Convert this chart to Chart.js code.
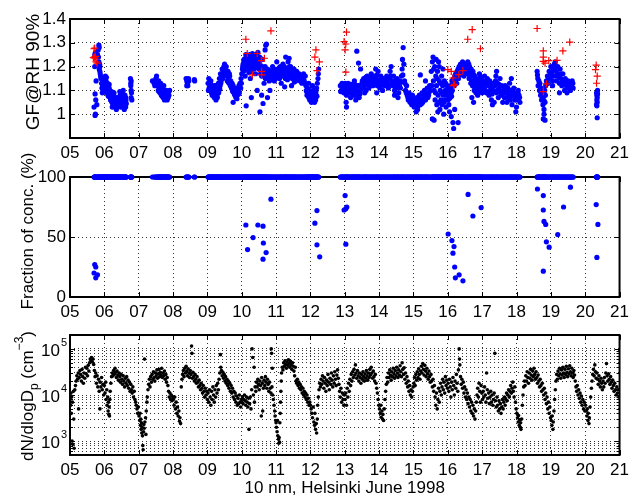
<!DOCTYPE html>
<html>
<head>
<meta charset="utf-8">
<script src="https://cdn.jsdelivr.net/npm/chart.js@4.4.0/dist/chart.umd.min.js"></script>
<style>
html, body { margin: 0; padding: 0; background: #fff; }
#wrap { position: relative; width: 634px; height: 496px; overflow: hidden; }
canvas { position: absolute; left: 0; }
</style>
</head>
<body>
<div id="wrap">
  <canvas id="gf" width="634" height="160" style="top:0px"></canvas>
  <canvas id="frac" width="634" height="173" style="top:145px"></canvas>
  <canvas id="conc" width="634" height="178" style="top:318px"></canvas>
</div>
<script>
// --- ticks ---
const dayTicks = [5, 6, 7, 8, 9, 10, 11, 12, 13, 14, 15, 16, 17, 18, 19, 20, 21];
const gfTicks = [1, 1.1, 1.2, 1.3, 1.4];
const fracTicks = [0, 50, 100];
const concTicks = [600, 700, 800, 900, 1000, 2000, 3000, 4000, 5000, 6000, 7000, 8000, 9000,
  10000, 20000, 30000, 40000, 50000, 60000, 70000, 80000, 90000, 100000];
const decadeLabels = [1000, 10000, 100000];

// --- GF @ RH 90%, one mode (blue) : [day of June, GF] ---
const gfBlueEarly = [
  [5.70,1.03],[5.73,0.995],[5.74,1.0],[5.75,1.06],[5.73,1.085],[5.78,1.04],[5.76,1.14],[5.72,1.2],[5.72,1.25],[5.74,1.26],
  [5.80,1.25],[5.82,1.27],[5.84,1.29],[5.85,1.28],[5.83,1.24],[5.84,1.22],[5.86,1.21],[5.85,1.19],[5.87,1.18],[5.88,1.17],[5.89,1.16],[5.87,1.2],
  [5.90,1.15],[5.92,1.13],[5.93,1.11],[5.95,1.12],[5.96,1.14],[5.97,1.10],[5.98,1.12],[6.00,1.13],[6.01,1.11],[6.02,1.15],
  [6.03,1.12],[6.04,1.10],[6.05,1.14],[6.06,1.09],[6.07,1.12],[6.08,1.11],[6.09,1.13],[6.10,1.10],[6.11,1.08],[6.12,1.12],
  [6.13,1.09],[6.14,1.11],[6.15,1.08],[6.16,1.10],[6.17,1.07],[6.03,1.16],[6.06,1.155],[5.94,1.09],[6.12,1.075],
  [5.96,1.105],[6.01,1.135],[6.04,1.125],[6.08,1.095],[6.14,1.125],[6.19,1.075],[6.21,1.095],[6.26,1.055],[6.29,1.075],[6.32,1.045],
  [6.39,1.065],[6.42,1.035],[6.45,1.05],[6.49,1.04],[6.52,1.075],[6.56,1.06],[6.59,1.035],[6.62,1.07],[6.64,1.045],[6.23,1.03],
  [6.18,1.06],[6.20,1.08],[6.22,1.05],[6.24,1.07],[6.25,1.04],[6.27,1.06],[6.28,1.09],[6.30,1.05],[6.31,1.03],[6.33,1.07],
  [6.34,1.05],[6.36,1.04],[6.37,1.06],[6.38,1.03],[6.40,1.05],[6.41,1.07],[6.43,1.04],[6.44,1.06],[6.46,1.08],[6.47,1.05],
  [6.48,1.03],[6.50,1.06],[6.51,1.09],[6.53,1.04],[6.54,1.07],[6.55,1.10],[6.57,1.05],[6.58,1.02],[6.60,1.08],[6.61,1.04],
  [6.62,1.03],[6.63,1.06],[6.35,1.02],[6.45,1.095],
  [6.76,1.15],[6.77,1.13],[6.78,1.14],[6.77,1.12],[6.78,1.10],[6.79,1.09],[6.80,1.06],[6.78,1.07],
  [7.40,1.14],[7.45,1.13],[7.50,1.15],[7.52,1.16],[7.55,1.12],[7.57,1.10],[7.58,1.14],[7.60,1.11],[7.62,1.09],[7.63,1.12],
  [7.65,1.10],[7.66,1.08],[7.68,1.11],[7.70,1.09],[7.71,1.07],[7.72,1.10],[7.74,1.08],[7.75,1.06],[7.77,1.09],[7.78,1.07],
  [7.80,1.10],[7.82,1.08],[7.83,1.06],[7.85,1.09],[7.86,1.07],[7.88,1.08],[7.90,1.10],[7.64,1.13],[7.73,1.12],
  [7.47,1.12],[7.53,1.135],[7.59,1.095],[7.67,1.095],[7.69,1.075],[7.76,1.095],[7.79,1.065],[7.81,1.09],[7.84,1.075],[7.87,1.095],
  [7.61,1.125],[7.70,1.1],
  [8.38,1.15],[8.40,1.14],[8.42,1.13],[8.43,1.12],[8.45,1.15],[8.46,1.14],[8.40,1.12],[8.63,1.14],[8.62,1.145]
];
const gfBlueMid = [
  [9.02,1.13],[9.04,1.15],[9.05,1.11],[9.07,1.12],[9.08,1.10],[9.10,1.14],[9.12,1.09],[9.13,1.12],[9.15,1.10],[9.17,1.08],
  [9.18,1.11],[9.20,1.07],[9.22,1.09],[9.23,1.12],[9.25,1.06],[9.27,1.10],[9.28,1.08],[9.30,1.11],[9.32,1.13],[9.33,1.09],
  [9.35,1.15],[9.37,1.12],[9.38,1.17],[9.40,1.14],[9.42,1.16],[9.43,1.19],[9.45,1.15],
  [9.03,1.1],[9.09,1.125],[9.14,1.08],[9.19,1.095],[9.21,1.12],[9.26,1.085],[9.29,1.07],[9.31,1.095],[9.36,1.105],[9.39,1.13],
  [9.44,1.17],[9.11,1.105],
  [9.47,1.18],[9.48,1.20],[9.50,1.21],[9.52,1.19],[9.53,1.17],[9.55,1.20],[9.57,1.16],[9.58,1.14],[9.60,1.18],[9.62,1.15],
  [9.63,1.13],[9.65,1.16],[9.67,1.12],[9.68,1.14],[9.70,1.11],[9.72,1.13],[9.73,1.10],[9.75,1.12],[9.77,1.09],[9.78,1.11],
  [9.80,1.08],[9.82,1.10],[9.83,1.07],[9.85,1.09],[9.87,1.08],[9.88,1.11],[9.90,1.10],[9.92,1.12],[9.93,1.09],[9.95,1.13],
  [9.97,1.11],[9.98,1.15],[9.75,1.05],
  [9.51,1.165],[9.56,1.18],[9.61,1.135],[9.64,1.17],[9.69,1.125],[9.74,1.095],[9.79,1.085],[9.84,1.105],[9.86,1.065],[9.91,1.085],
  [9.94,1.115],[9.99,1.13],
  [10.00,1.17],[10.02,1.19],[10.04,1.21],[10.05,1.18],[10.07,1.23],[10.08,1.20],[10.10,1.22],[10.12,1.25],[10.13,1.21],[10.15,1.19],
  [10.17,1.24],[10.18,1.22],[10.20,1.20],[10.22,1.23],[10.23,1.25],[10.25,1.21],[10.27,1.18],[10.28,1.22],[10.30,1.24],[10.32,1.20],
  [10.33,1.23],[10.35,1.19],[10.37,1.22],[10.38,1.25],[10.40,1.21],[10.42,1.24],[10.43,1.20],[10.45,1.23],[10.47,1.26],[10.48,1.22],
  [10.50,1.19],[10.52,1.24],[10.53,1.21],[10.55,1.17],[10.57,1.20],[10.58,1.16],[10.60,1.23],[10.10,1.16],[10.25,1.15],[10.40,1.17],
  [10.03,1.2],[10.06,1.225],[10.09,1.185],[10.11,1.235],[10.14,1.215],[10.16,1.205],[10.19,1.245],[10.21,1.175],[10.24,1.195],[10.26,1.235],
  [10.29,1.205],[10.31,1.255],[10.34,1.215],[10.36,1.235],[10.39,1.195],[10.41,1.225],[10.44,1.245],[10.46,1.205],[10.49,1.235],[10.51,1.215],
  [10.54,1.235],[10.56,1.185],[10.59,1.2],
  [10.13,1.035],[10.28,1.07],[10.45,1.10],[10.53,1.01],[10.62,1.045],[10.75,1.07],[10.82,1.10],[10.65,1.13],[10.58,1.08],
  [10.70,1.29],[10.72,1.295],[10.68,1.27],
  [10.62,1.18],[10.65,1.16],[10.68,1.20],[10.70,1.17],[10.73,1.15],[10.75,1.19],[10.78,1.16],[10.80,1.14],[10.83,1.18],[10.85,1.15],
  [10.88,1.17],[10.90,1.20],[10.93,1.16],[10.95,1.14],[10.98,1.18],[11.00,1.16],[11.02,1.22],[11.05,1.19],[11.07,1.17],[11.10,1.15],
  [11.12,1.20],[11.15,1.18],[11.17,1.16],[11.20,1.21],[11.22,1.19],[11.25,1.17],[11.27,1.15],[11.30,1.19],[11.32,1.17],[11.35,1.22],
  [11.37,1.18],[11.40,1.16],[11.42,1.20],[11.45,1.18],[11.47,1.15],[11.50,1.17],[11.52,1.19],[11.55,1.16],[11.57,1.14],[11.60,1.18],
  [11.62,1.16],[11.65,1.15],[11.67,1.17],[11.70,1.14],[11.72,1.16],[11.75,1.13],[11.77,1.15],[11.80,1.17],[11.82,1.14],[11.85,1.16],
  [11.28,1.24],[11.38,1.235],[11.45,1.12],[11.15,1.13],[11.25,1.115],
  [10.64,1.19],[10.69,1.15],[10.74,1.175],[10.79,1.185],[10.84,1.165],[10.89,1.145],[10.94,1.19],[10.99,1.15],[11.04,1.17],[11.09,1.195],
  [11.14,1.16],[11.19,1.175],[11.24,1.2],[11.29,1.165],[11.34,1.18],[11.39,1.2],[11.44,1.165],[11.49,1.19],[11.54,1.175],[11.59,1.155],
  [11.64,1.17],[11.69,1.155],[11.74,1.145],[11.79,1.155],[11.84,1.13],[11.33,1.145],[11.53,1.135],
  [11.87,1.12],[11.88,1.10],[11.90,1.08],[11.92,1.11],[11.93,1.09],[11.95,1.07],[11.97,1.10],[11.98,1.06],[12.00,1.09],[12.02,1.07],
  [12.03,1.05],[12.05,1.08],[12.07,1.06],[12.08,1.10],[12.10,1.07],[12.12,1.05],[12.13,1.09],[12.15,1.06],[12.17,1.08],[12.18,1.11],
  [12.20,1.13],[12.22,1.15],[12.23,1.17],[12.24,1.19],[12.06,1.12],[11.95,1.13],
  [11.89,1.095],[11.94,1.085],[11.99,1.08],[12.01,1.06],[12.04,1.095],[12.09,1.075],[12.11,1.09],[12.14,1.07],[12.16,1.095],[12.19,1.075]
];
const gfBlueLate = [
  [12.87,1.12],[12.90,1.10],[12.92,1.13],[12.95,1.11],[12.97,1.09],[13.00,1.12],[13.02,1.10],[13.05,1.08],[13.07,1.11],[13.10,1.13],
  [13.12,1.09],[13.15,1.11],[13.17,1.07],[13.20,1.10],[13.22,1.12],[13.25,1.08],[13.27,1.11],[13.30,1.09],[13.32,1.06],[13.35,1.10],
  [13.37,1.08],[13.40,1.12],[13.42,1.07],[13.45,1.10],[13.04,1.05],[13.05,1.03],[13.35,1.265],[13.40,1.215],[13.46,1.19],[13.28,1.14],
  [12.88,1.095],[12.93,1.12],[12.96,1.1],[13.01,1.13],[13.06,1.095],[13.09,1.115],[13.13,1.1],[13.18,1.125],[13.21,1.085],[13.24,1.1],
  [13.29,1.125],[13.31,1.08],[13.36,1.12],[13.41,1.095],[13.44,1.085],
  [13.50,1.13],[13.52,1.11],[13.55,1.15],[13.57,1.12],[13.60,1.14],[13.62,1.10],[13.65,1.16],[13.67,1.13],[13.70,1.11],[13.72,1.15],
  [13.75,1.12],[13.77,1.17],[13.80,1.14],[13.82,1.12],[13.85,1.16],[13.87,1.13],[13.90,1.19],[13.92,1.15],[13.95,1.12],[13.97,1.18],
  [14.00,1.14],[14.02,1.11],[14.05,1.16],[14.07,1.13],[14.10,1.10],[14.12,1.15],[14.15,1.12],[13.58,1.09],[13.93,1.09],
  [13.51,1.14],[13.56,1.125],[13.61,1.155],[13.64,1.125],[13.69,1.14],[13.74,1.13],[13.79,1.155],[13.84,1.13],[13.89,1.145],[13.94,1.165],
  [13.99,1.13],[14.04,1.145],[14.09,1.125],[14.14,1.14],
  [14.17,1.14],[14.20,1.12],[14.22,1.16],[14.25,1.13],[14.27,1.11],[14.30,1.15],[14.32,1.18],[14.35,1.20],[14.37,1.14],[14.40,1.12],
  [14.42,1.16],[14.45,1.10],[14.47,1.13],[14.50,1.11],[14.52,1.15],[14.55,1.12],[14.57,1.09],[14.60,1.14],[14.62,1.11],[14.65,1.16],
  [14.67,1.19],[14.68,1.23],[14.70,1.28],[14.72,1.21],[14.75,1.13],[14.77,1.10],[14.80,1.12],[14.45,1.08],[14.55,1.07],
  [14.19,1.13],[14.24,1.145],[14.29,1.125],[14.34,1.16],[14.39,1.135],[14.44,1.13],[14.49,1.145],[14.54,1.13],[14.59,1.12],[14.64,1.135],
  [14.69,1.165],[14.74,1.14],[14.79,1.09],
  [14.82,1.08],[14.85,1.06],[14.87,1.09],[14.90,1.05],[14.92,1.07],[14.95,1.04],[14.97,1.08],[15.00,1.05],[15.02,1.03],[15.05,1.06],
  [15.07,1.04],[15.10,1.07],[15.12,1.02],[15.15,1.05],[15.17,1.08],[15.20,1.04],[15.22,1.06],[15.25,1.09],[15.27,1.05],[15.30,1.07],
  [15.32,1.10],[15.35,1.06],[15.37,1.08],[15.40,1.11],[15.42,1.07],[15.45,1.09],[15.47,1.12],[15.08,1.01],[15.20,1.165],[15.35,1.14],
  [14.84,1.07],[14.89,1.075],[14.94,1.06],[14.99,1.065],[15.04,1.045],[15.09,1.055],[15.14,1.035],[15.19,1.065],[15.24,1.045],[15.29,1.085],
  [15.34,1.075],[15.39,1.09],[15.44,1.08],[15.49,1.1],
  [15.52,1.18],[15.55,1.22],[15.57,1.24],[15.58,1.14],[15.60,1.10],[15.62,1.20],[15.63,1.06],[15.65,1.16],[15.67,1.12],[15.68,1.04],
  [15.70,1.18],[15.72,1.08],[15.73,1.22],[15.75,1.14],[15.77,1.02],[15.78,1.10],[15.80,1.06],[15.82,1.16],[15.83,1.04],[15.85,1.12],
  [15.87,1.08],[15.88,1.00],[15.90,1.14],[15.92,1.06],[15.93,1.10],[15.95,1.03],[15.97,1.08],[15.98,1.12],[15.55,0.98],[15.60,0.975],
  [15.75,1.20],[15.66,1.23],
  [15.53,1.12],[15.59,1.19],[15.64,1.09],[15.69,1.15],[15.74,1.05],[15.79,1.13],[15.84,1.09],[15.89,1.05],[15.94,1.13],[15.99,1.1],
  [15.71,1.01],[15.86,1.19],
  [16.00,1.06],[16.02,1.09],[16.03,1.04],[16.05,1.11],[16.07,1.07],[16.08,1.12],[16.10,1.09],[16.12,1.14],[16.13,1.10],[16.15,1.12],
  [16.17,1.15],[16.18,1.13],[16.20,1.16],[16.22,1.14],[16.23,1.17],[16.25,1.15],[16.27,1.18],[16.28,1.16],[16.30,1.19],[16.32,1.17],
  [16.33,1.20],[16.35,1.18],[16.37,1.21],[16.38,1.19],[16.40,1.17],[16.42,1.20],[16.43,1.22],[16.45,1.18],[16.47,1.16],[16.50,1.19],
  [16.52,1.21],[16.55,1.17],[16.10,0.99],[16.15,0.965],[16.17,0.94],[16.30,0.965],[16.20,1.02],[16.05,1.01],
  [16.01,1.08],[16.04,1.065],[16.09,1.1],[16.11,1.075],[16.14,1.13],[16.19,1.12],[16.21,1.135],[16.24,1.16],[16.26,1.13],[16.29,1.165],
  [16.31,1.15],[16.34,1.185],[16.36,1.165],[16.39,1.2],[16.41,1.185],[16.44,1.2],[16.46,1.175],[16.49,1.205],[16.51,1.18],[16.54,1.195],
  [16.57,1.20],[16.58,1.22],[16.60,1.18],[16.62,1.15],[16.63,1.20],[16.65,1.17],[16.67,1.13],[16.68,1.19],[16.70,1.16],[16.72,1.12],
  [16.73,1.18],[16.75,1.14],[16.77,1.10],[16.78,1.16],[16.80,1.13],[16.82,1.09],[16.83,1.15],[16.85,1.12],[16.87,1.08],[16.88,1.14],
  [16.90,1.11],[16.92,1.17],[16.93,1.13],[16.95,1.10],[16.97,1.15],[16.98,1.12],[17.00,1.09],[16.70,1.07],[16.75,1.05],
  [16.59,1.19],[16.61,1.21],[16.64,1.16],[16.66,1.185],[16.69,1.14],[16.71,1.175],[16.74,1.125],[16.76,1.165],[16.79,1.105],[16.81,1.145],
  [16.84,1.1],[16.86,1.135],[16.89,1.095],[16.91,1.125],[16.94,1.16],[16.96,1.12],[16.99,1.14],
  [17.02,1.14],[17.05,1.11],[17.07,1.16],[17.10,1.13],[17.12,1.09],[17.15,1.15],[17.17,1.12],[17.20,1.08],[17.22,1.14],[17.25,1.11],
  [17.27,1.06],[17.30,1.13],[17.32,1.10],[17.35,1.05],[17.37,1.12],[17.40,1.16],[17.42,1.09],[17.45,1.13],[17.47,1.07],[17.50,1.11],
  [17.52,1.15],[17.55,1.08],[17.57,1.12],[17.60,1.05],[17.42,1.18],[17.30,1.04],
  [17.04,1.125],[17.09,1.1],[17.14,1.135],[17.19,1.095],[17.24,1.125],[17.29,1.085],[17.34,1.12],[17.39,1.14],[17.44,1.1],[17.49,1.125],
  [17.54,1.095],[17.59,1.085],
  [17.62,1.10],[17.65,1.07],[17.67,1.12],[17.70,1.09],[17.72,1.05],[17.75,1.11],[17.77,1.08],[17.80,1.13],[17.82,1.06],[17.85,1.10],
  [17.87,1.04],[17.90,1.08],[17.92,1.11],[17.95,1.06],[17.97,1.09],[18.00,1.03],[18.02,1.07],[18.05,1.10],[18.07,1.08],[18.10,1.05],
  [17.85,1.15],[17.98,1.01],
  [17.64,1.09],[17.69,1.115],[17.74,1.07],[17.79,1.095],[17.84,1.075],[17.89,1.095],[17.94,1.08],[17.99,1.06],[18.04,1.09],[18.09,1.07],
  [18.60,1.18],[18.62,1.15],[18.63,1.12],[18.65,1.14],[18.67,1.10],[18.68,1.13],[18.70,1.08],[18.72,1.11],[18.73,1.06],[18.75,1.09],
  [18.77,1.04],[18.78,1.07],[18.80,1.02],[18.82,1.10],[18.83,1.05],[18.85,1.12],[18.78,0.98],[18.83,0.975],[18.80,1.00],
  [18.87,1.14],[18.90,1.16],[18.92,1.13],[18.95,1.18],[18.97,1.15],[19.00,1.20],[19.02,1.17],[19.05,1.14],[19.07,1.19],[19.10,1.21],
  [19.12,1.16],[19.13,1.22],[19.15,1.18],[19.17,1.14],[19.20,1.20],[19.22,1.17],[19.25,1.13],[19.27,1.19],[19.30,1.15],[19.32,1.12],
  [19.35,1.17],[19.37,1.14],[19.40,1.10],[19.42,1.15],[19.45,1.12],[19.47,1.09],[19.50,1.14],[19.52,1.11],[19.55,1.13],[19.57,1.10],
  [19.60,1.12],[19.62,1.14],[19.65,1.11],[19.05,1.12],[19.25,1.09],
  [18.61,1.165],[18.66,1.12],[18.71,1.095],[18.76,1.075],[18.81,1.055],[18.84,1.08],[18.89,1.13],[18.94,1.15],[18.99,1.175],[19.04,1.16],
  [19.09,1.185],[19.14,1.2],[19.19,1.165],[19.24,1.155],[19.29,1.17],[19.34,1.135],[19.39,1.125],[19.44,1.135],[19.49,1.115],[19.54,1.12],
  [19.59,1.125],[19.64,1.13],
  [20.33,1.09],[20.34,1.08],[20.35,1.07],[20.34,1.06],[20.35,1.05],[20.33,1.04],[20.36,1.085],[20.34,1.035],[20.35,0.985],[20.36,1.10]
];
const gfBlue = [...gfBlueEarly, ...gfBlueMid, ...gfBlueLate];

// --- GF, second mode (red crosses) ---
const gfRed = [
  [5.70,1.275],[5.72,1.278],[5.71,1.24],[5.68,1.238],[5.74,1.243],[5.76,1.22],[5.79,1.215],[5.73,1.235],
  [10.12,1.315],[10.16,1.255],[10.45,1.255],[10.31,1.165],[10.57,1.225],[10.58,1.18],[10.58,1.165],[10.66,1.235],[10.85,1.35],
  [12.13,1.24],[12.16,1.27],[12.26,1.22],[12.19,1.183],
  [12.98,1.305],[13.05,1.345],[13.03,1.295],[13.01,1.27],[13.03,1.177],
  [16.00,1.187],[16.10,1.18],[16.15,1.152],[16.19,1.125],[16.17,1.12],[16.32,1.166],[16.44,1.183],[16.58,1.315],[16.71,1.355],[16.95,1.275],
  [18.60,1.36],[18.78,1.266],[18.78,1.24],[18.78,1.222],[18.83,1.215],[18.94,1.225],[19.18,1.226],[19.35,1.266],[19.55,1.303],
  [18.87,1.127],[18.78,1.095],
  [20.30,1.187],[20.32,1.206],[20.35,1.16],[20.33,1.13]
];

// --- fraction of concentration: 100 % in the one-mode case, below that where two modes were seen ---
const fracPartial = [
  [5.72,27],[5.75,25],[5.70,20],[5.80,18.5],[5.75,16],
  [10.12,60],[10.17,39.5],[10.33,49.5],[10.47,60],[10.62,59],[10.63,45],[10.62,31.5],[10.71,37],[10.85,81.5],
  [12.19,72],[12.13,61.5],[12.19,43.5],[12.27,33.5],
  [13.01,84.5],[12.98,72.5],[13.06,75],[13.03,73.5],[13.03,44],
  [16.01,52.5],[16.12,47],[16.18,42],[16.15,36.5],[16.20,25],[16.22,16],[16.33,18.5],[16.44,13.5],[16.59,85.5],[16.73,67.5],[16.97,74.5],
  [18.61,90],[18.78,84.5],[18.78,72.5],[18.80,63],[18.85,60.5],[18.87,46],[18.95,41.5],[18.78,21.5],[19.20,52],[19.37,75],[19.57,91.5],
  [20.32,77],[20.37,60.5],[20.34,33]
];

// --- dN/dlogDp at 10 nm, cm^-3 ---
const conc = [
  [5.00,8e3],[5.02,6e3],[5.03,1.1e4],[5.04,4e3],[5.05,9e3],[5.06,1e3],[5.07,7e3],[5.08,850],[5.10,1.2e4],[5.11,3e3],[5.12,700],
  [5.14,1.3e4],[5.16,1.6e4],[5.18,2e4],[5.20,2.6e4],[5.22,2.2e4],[5.24,3e4],[5.25,5e3],[5.27,2.4e4],[5.29,3.4e4],[5.31,2.8e4],
  [5.33,2e4],[5.35,3.6e4],[5.37,2.5e4],[5.39,1.8e4],[5.41,3e4],[5.43,2.3e4],[5.45,4e4],[5.47,2.9e4],[5.49,3.8e4],[5.51,2.6e4],
  [5.53,4.4e4],[5.55,3.3e4],[5.57,5e4],[5.59,6e4],[5.61,5.5e4],[5.63,6.5e4],[5.65,5.2e4],[5.67,6e4],[5.69,4.6e4],[5.71,3.4e4],
  [5.73,2.5e4],[5.75,3e4],[5.77,1.8e4],[5.79,2.6e4],[5.81,1.5e4],[5.83,2.2e4],[5.85,1.2e4],[5.87,5e3],[5.88,1.9e4],[5.90,1.5e4],
  [5.92,2.4e4],[5.94,1.3e4],[5.96,1.7e4],[5.98,1e4],
  [6.00,1.6e4],[6.02,1.1e4],[6.04,1.9e4],[6.05,8e3],[6.07,1.3e4],[6.08,6e3],[6.10,9e3],[6.11,4.5e3],[6.12,7e3],[6.13,3.8e3],
  [6.14,5.5e3],[6.15,3.5e3],[6.16,8e3],[6.17,1.2e4],[6.19,1.8e4],[6.21,2.5e4],[6.23,3e4],[6.25,2.6e4],[6.27,3.4e4],[6.29,2.8e4],
  [6.31,3.8e4],[6.33,3.1e4],[6.35,2.4e4],[6.37,3.3e4],[6.39,2.7e4],[6.41,2.1e4],[6.43,3e4],[6.45,2.5e4],[6.47,1.9e4],[6.49,2.8e4],
  [6.51,2.2e4],[6.53,1.7e4],[6.55,2.6e4],[6.57,2e4],[6.59,1.5e4],[6.61,2.3e4],[6.63,1.8e4],[6.65,2.5e4],[6.67,1.6e4],[6.69,2.1e4],
  [6.71,1.4e4],[6.73,1.9e4],[6.75,1.2e4],[6.77,1.7e4],[6.79,1.3e4],[6.81,1.1e4],[6.83,1.5e4],[6.85,9e3],[6.87,1.2e4],[6.89,8e3],
  [6.91,7e3],[6.93,6e3],[6.95,5e3],[6.97,4e3],[6.99,5.5e3],
  [7.01,3.5e3],[7.03,2.8e3],[7.04,4e3],[7.05,2.2e3],[7.06,3e3],[7.07,1.8e3],[7.08,2.5e3],[7.09,1.5e3],[7.10,2e3],[7.11,1.3e3],
  [7.12,800],[7.13,650],[7.14,1.6e3],[7.15,2.3e3],[7.16,1.9e3],[7.17,6e4],[7.18,2.6e3],[7.20,3.2e3],[7.21,1.4e3],[7.22,4.5e3],
  [7.24,7e3],[7.25,9e3],[7.27,1.3e4],[7.29,1.7e4],[7.31,2.2e4],[7.33,1.5e4],[7.35,2.5e4],[7.37,1.9e4],[7.39,2.8e4],[7.41,2.2e4],
  [7.43,3.2e4],[7.45,2.4e4],[7.47,2e4],[7.49,3e4],[7.51,2.6e4],[7.53,3.5e4],[7.55,2.3e4],[7.57,2.9e4],[7.59,3.6e4],[7.61,2.5e4],
  [7.63,3.1e4],[7.65,2.7e4],[7.67,3.8e4],[7.69,2.4e4],[7.71,3e4],[7.73,2.6e4],[7.75,3.3e4],[7.77,2.2e4],[7.79,2.8e4],[7.81,1.9e4],
  [7.83,2.4e4],[7.85,1.6e4],[7.87,1.2e4],[7.89,9e3],[7.91,1.1e4],[7.93,8e3],[7.95,1e4],[7.97,7.5e3],[7.99,9e3],
  [8.01,8e3],[8.03,6e3],[8.05,9e3],[8.07,5e3],[8.09,7e3],[8.11,4e3],[8.13,5.5e3],[8.15,3.5e3],[8.17,4.5e3],[8.19,2.7e3],
  [8.20,3.2e3],[8.22,2.4e3],[8.24,1.5e4],[8.26,2.2e4],[8.28,2.8e4],[8.30,3.4e4],[8.32,2.5e4],[8.34,3.8e4],[8.36,3e4],[8.38,4.2e4],
  [8.40,3.3e4],[8.42,2.6e4],[8.44,3.7e4],[8.46,3e4],[8.48,2.4e4],[8.50,3.4e4],[8.52,2.8e4],[8.54,1.15e5],[8.55,8e4],[8.56,2.3e4],
  [8.58,3.1e4],[8.60,2.5e4],[8.62,2e4],[8.64,2.8e4],[8.66,2.2e4],[8.68,1.8e4],[8.70,2.5e4],[8.72,1.9e4],[8.74,1.5e4],[8.76,2.1e4],
  [8.78,1.6e4],[8.80,1.3e4],[8.82,1.8e4],[8.84,1.4e4],[8.86,1.1e4],[8.88,1.6e4],[8.90,1.2e4],[8.92,9e3],[8.94,1.4e4],[8.96,1e4],
  [8.98,1.2e4],
  [9.00,8e3],[9.02,1.1e4],[9.04,7e3],[9.06,1.3e4],[9.08,9e3],[9.10,6e3],[9.12,1.2e4],[9.14,8e3],[9.16,1.5e4],[9.18,1e4],
  [9.20,7e3],[9.22,1.3e4],[9.24,9e3],[9.26,1.6e4],[9.28,1.1e4],[9.30,1.8e4],[9.32,1.3e4],[9.34,2.2e4],[9.36,3e4],[9.38,7.5e4],
  [9.39,4e4],[9.41,3.4e4],[9.43,2.6e4],[9.45,3.1e4],[9.47,2.3e4],[9.49,2.8e4],[9.51,2e4],[9.53,2.5e4],[9.55,1.8e4],[9.57,2.2e4],
  [9.59,1.6e4],[9.61,2e4],[9.63,1.4e4],[9.65,1.8e4],[9.67,1.2e4],[9.69,1.6e4],[9.71,1.1e4],[9.73,1.4e4],[9.75,9e3],[9.77,1.2e4],
  [9.79,8e3],[9.81,1.1e4],[9.83,7e3],[9.85,9.5e3],[9.87,6e3],[9.89,8.5e3],[9.91,6.5e3],[9.93,1e4],[9.95,7e3],[9.97,5.5e3],[9.99,8e3],
  [10.00,7e3],[10.02,9e3],[10.04,6.5e3],[10.06,8e3],[10.08,1e4],[10.10,7.5e3],[10.12,6e3],[10.14,9e3],[10.16,7e3],[10.18,5.5e3],
  [10.20,8.5e3],[10.21,1.8e3],[10.23,6.5e3],[10.25,9e3],[10.27,5e3],[10.29,1.3e4],[10.30,1e5],[10.32,6.5e4],[10.34,1e4],[10.36,4e4],
  [10.37,7e3],[10.39,1.5e4],[10.41,1.2e4],[10.43,1.9e4],[10.45,1.5e4],[10.47,2.2e4],[10.49,1.7e4],[10.51,1.3e4],[10.53,2e4],[10.55,1.6e4],
  [10.57,3.5e3],[10.58,2.4e4],[10.60,1.8e4],[10.61,4.5e3],[10.63,1.4e4],[10.65,2.1e4],[10.67,1.6e4],[10.69,2.5e4],[10.71,1.9e4],[10.73,1.4e4],
  [10.75,2.2e4],[10.77,1.7e4],[10.79,1.2e4],[10.81,1.9e4],[10.83,1.4e4],[10.85,1.1e4],[10.86,1e5],[10.87,8e4],[10.88,1.5e4],[10.89,3.8e4],
  [10.90,1e4],[10.92,8e3],[10.94,6e3],[10.96,4.5e3],[10.97,3.5e3],[10.99,2.8e3],
  [11.00,2.5e3],[11.01,2e3],[11.03,1.6e3],[11.04,2.8e3],[11.05,1.3e3],[11.07,1.1e3],[11.08,900],[11.09,1.2e3],[11.10,950],[11.11,2.5e3],
  [11.12,4e3],[11.13,7e3],[11.14,1.2e4],[11.15,2e4],[11.16,3e4],[11.18,4e4],[11.20,3.5e4],[11.22,5e4],[11.24,4.2e4],[11.26,5.5e4],
  [11.28,4.6e4],[11.30,3.8e4],[11.32,5.2e4],[11.34,4.4e4],[11.36,5.8e4],[11.38,4.8e4],[11.40,4e4],[11.42,5.4e4],[11.44,4.5e4],[11.46,3.6e4],
  [11.48,5e4],[11.50,4.2e4],[11.52,3.3e4],[11.54,2.6e4],[11.56,4e4],[11.58,2e4],[11.60,1.8e4],[11.62,2.2e4],[11.64,1.6e4],[11.66,1.9e4],
  [11.68,1.4e4],[11.70,1.7e4],[11.72,1.3e4],[11.74,1.5e4],[11.76,1.1e4],[11.78,1.4e4],[11.80,1e4],[11.82,1.2e4],[11.84,9e3],[11.86,1.1e4],
  [11.88,8e3],[11.90,1e4],[11.92,7e3],[11.94,8.5e3],[11.96,6e3],[11.98,7e3],
  [12.00,6e3],[12.02,5e3],[12.04,4e3],[12.06,3.2e3],[12.08,5.5e3],[12.10,2.6e3],[12.12,2.2e3],[12.13,4e3],[12.15,1.8e3],[12.17,2.4e3],
  [12.18,1.5e3],[12.20,3e3],[12.21,6e3],[12.23,9e3],[12.25,1.3e4],[12.27,1.8e4],[12.29,1.5e4],[12.31,2.2e4],[12.33,1.7e4],[12.35,2.6e4],
  [12.37,2e4],[12.39,1.4e4],[12.41,2.4e4],[12.43,1.8e4],[12.45,1.2e4],[12.47,2.1e4],[12.49,1.6e4],[12.51,2.8e4],[12.53,1.9e4],[12.55,1.3e4],
  [12.57,2.3e4],[12.59,1.7e4],[12.61,3e4],[12.63,2.1e4],[12.65,1.5e4],[12.67,2.6e4],[12.69,1.8e4],[12.71,3.2e4],[12.73,2.2e4],[12.75,1.6e4],
  [12.77,2.7e4],[12.79,3.5e4],[12.81,2.3e4],[12.83,1.7e4],[12.85,1.2e4],[12.87,9e3],[12.89,1.4e4],[12.91,7e3],[12.93,1.1e4],[12.95,8e3],
  [12.97,6e3],[12.99,1e4],
  [13.01,8e3],[13.03,1.1e4],[13.05,6e3],[13.07,1.4e4],[13.09,9e3],[13.11,1.8e4],[13.13,1.2e4],[13.15,2.2e4],[13.17,1.6e4],[13.19,2.8e4],
  [13.21,2e4],[13.23,3.2e4],[13.25,2.4e4],[13.27,3.6e4],[13.29,2.7e4],[13.31,4.5e4],[13.33,3e4],[13.35,2.3e4],[13.37,3.4e4],[13.39,2.6e4],
  [13.41,2e4],[13.43,3e4],[13.45,2.4e4],[13.47,1.8e4],[13.49,2.8e4],[13.51,2.2e4],[13.53,3.2e4],[13.55,2.5e4],[13.57,2e4],[13.59,2.9e4],
  [13.61,2.3e4],[13.63,3.4e4],[13.65,2.6e4],[13.67,2.1e4],[13.69,3e4],[13.71,2.4e4],[13.73,3.6e4],[13.75,2.7e4],[13.77,4e4],[13.79,3e4],
  [13.81,2.3e4],[13.83,3.3e4],[13.85,2.5e4],[13.87,2e4],[13.89,2.8e4],[13.91,1.8e4],[13.93,1.4e4],[13.95,1.1e4],[13.97,8e3],[13.99,6e3],
  [14.01,5e3],[14.03,4e3],[14.05,6e3],[14.06,3.3e3],[14.08,4.5e3],[14.10,3e3],[14.11,3.8e3],[14.13,2.8e3],[14.15,5e3],[14.17,8e3],
  [14.19,1.2e4],[14.21,1.7e4],[14.23,2.4e4],[14.25,1.9e4],[14.27,3e4],[14.29,2.4e4],[14.31,3.5e4],[14.33,2.7e4],[14.35,2.1e4],[14.37,3.2e4],
  [14.39,2.5e4],[14.41,3.8e4],[14.43,2.9e4],[14.45,2.3e4],[14.47,3.4e4],[14.49,2.6e4],[14.51,4e4],[14.53,3e4],[14.55,2.4e4],[14.57,3.5e4],
  [14.59,2.7e4],[14.61,4.3e4],[14.63,3.2e4],[14.65,2.5e4],[14.67,5e4],[14.69,3.6e4],[14.71,2.8e4],[14.73,3.9e4],[14.75,2.2e4],[14.77,3e4],
  [14.79,1.8e4],[14.81,2.5e4],[14.83,1.5e4],[14.85,2e4],[14.87,1.2e4],[14.89,1.6e4],[14.91,1e4],[14.93,1.3e4],[14.95,9e3],[14.97,1.2e4],
  [14.99,1.5e4],
  [15.01,1.8e4],[15.03,2.4e4],[15.05,1.6e4],[15.07,2.8e4],[15.09,2.1e4],[15.11,3.2e4],[15.13,2.4e4],[15.15,3.7e4],[15.17,2.8e4],[15.19,2.2e4],
  [15.21,3.3e4],[15.23,4.2e4],[15.25,3e4],[15.27,4.8e4],[15.29,3.6e4],[15.31,2.7e4],[15.33,4.4e4],[15.35,3.3e4],[15.37,2.5e4],[15.39,3.8e4],
  [15.41,2.9e4],[15.43,2.2e4],[15.45,3.3e4],[15.47,2.5e4],[15.49,1.9e4],[15.51,2.8e4],[15.53,2e4],[15.55,1.5e4],[15.57,2.2e4],[15.59,1.2e4],
  [15.61,1.6e4],[15.63,9e3],[15.65,6e3],[15.67,1.1e4],[15.69,5e3],[15.71,8e3],[15.73,1.4e4],[15.75,7e3],[15.77,1.2e4],[15.79,1.8e4],
  [15.81,1e4],[15.83,1.5e4],[15.85,2.2e4],[15.87,1.3e4],[15.89,1.9e4],[15.91,1.1e4],[15.93,2.5e4],[15.95,1.6e4],[15.97,2.1e4],[15.99,1.4e4],
  [16.01,1.8e4],[16.03,1.2e4],[16.05,2.2e4],[16.07,1.5e4],[16.09,9e3],[16.11,1.9e4],[16.13,1.3e4],[16.15,2.4e4],[16.17,1.6e4],[16.19,1e4],
  [16.21,2e4],[16.23,1.4e4],[16.25,2.8e4],[16.27,1.8e4],[16.29,1.2e4],[16.31,3.5e4],[16.33,1e5],[16.34,6e4],[16.35,4.5e4],[16.37,2.5e4],
  [16.39,1.7e4],[16.41,2.2e4],[16.43,1.4e4],[16.45,1.9e4],[16.47,1.1e4],[16.49,1.5e4],[16.51,9e3],[16.53,1.3e4],[16.55,8e3],[16.57,1.1e4],
  [16.59,6.5e3],[16.61,9e3],[16.63,5.5e3],[16.65,8e3],[16.67,4.5e3],[16.69,7e3],[16.71,4e3],[16.73,6e3],[16.75,3.5e3],[16.77,5e3],
  [16.79,3e3],[16.81,4.5e3],[16.83,7e3],[16.85,1e4],[16.87,1.4e4],[16.89,9e3],[16.91,1.8e4],[16.93,1.2e4],[16.95,7e3],[16.97,1.6e4],
  [16.99,1.1e4],
  [17.01,8e3],[17.03,1.2e4],[17.05,9e3],[17.07,1.5e4],[17.09,1e4],[17.11,7e3],[17.13,3e4],[17.15,1.3e4],[17.17,8.5e3],[17.19,1.1e4],
  [17.21,6.5e3],[17.23,9e3],[17.25,1.2e4],[17.27,7e3],[17.29,1e4],[17.31,6e3],[17.33,8e3],[17.35,1.1e4],[17.37,8e4],[17.39,7.5e3],
  [17.41,5.5e3],[17.43,9e3],[17.45,6e3],[17.47,4.5e3],[17.49,7.5e3],[17.51,5e3],[17.53,6.5e3],[17.55,4e3],[17.57,5.5e3],[17.59,8e3],
  [17.61,5e3],[17.63,7e3],[17.65,9e3],[17.67,6e3],[17.69,8e3],[17.71,1.1e4],[17.73,7.5e3],[17.75,1e4],[17.77,1.3e4],[17.79,9e3],
  [17.81,1.2e4],[17.83,1.6e4],[17.85,1.1e4],[17.87,1.4e4],[17.89,1.9e4],[17.91,1.2e4],[17.93,9e3],[17.95,1.5e4],[17.97,7e3],[17.99,5e3],
  [18.01,4e3],[18.03,3.2e3],[18.05,2.6e3],[18.06,3.6e3],[18.08,2.2e3],[18.09,2.9e3],[18.11,2e3],[18.12,2.5e3],[18.13,1.8e3],[18.15,3e3],
  [18.17,6e3],[18.19,1e4],[18.21,1.5e4],[18.23,2e4],[18.25,1.6e4],[18.27,2.6e4],[18.29,2e4],[18.31,3.2e4],[18.33,2.4e4],[18.35,1.8e4],
  [18.37,3e4],[18.39,2.3e4],[18.41,3.6e4],[18.43,2.7e4],[18.45,2.1e4],[18.47,3.3e4],[18.49,2.5e4],[18.51,3.8e4],[18.53,2.8e4],[18.55,2.2e4],
  [18.57,3.2e4],[18.59,2.4e4],[18.61,1.8e4],[18.63,2.7e4],[18.65,2e4],[18.67,1.5e4],[18.69,2.2e4],[18.71,1.6e4],[18.73,1.2e4],[18.75,1.8e4],
  [18.77,1.3e4],[18.79,1e4],[18.81,1.4e4],[18.83,8e3],[18.85,1.1e4],[18.87,6.5e3],[18.89,9e3],[18.91,5e3],[18.93,7e3],[18.95,4e3],
  [18.97,5.5e3],[18.99,3.2e3],
  [19.01,2.8e3],[19.03,2.2e3],[19.04,3.5e3],[19.06,1.8e3],[19.07,2.6e3],[19.09,4.5e3],[19.11,8e3],[19.13,1.3e4],[19.15,2e4],[19.17,2.8e4],
  [19.19,2.2e4],[19.21,3.3e4],[19.23,2.6e4],[19.25,3.8e4],[19.27,2.9e4],[19.29,2.3e4],[19.31,3.5e4],[19.33,2.7e4],[19.35,4e4],[19.37,3e4],
  [19.39,2.4e4],[19.41,3.6e4],[19.43,2.8e4],[19.45,4.2e4],[19.47,3.1e4],[19.49,2.5e4],[19.51,3.7e4],[19.53,2.9e4],[19.55,4.3e4],[19.57,3.2e4],
  [19.59,2.6e4],[19.61,3.8e4],[19.63,3e4],[19.65,2.4e4],[19.67,3.4e4],[19.69,2.7e4],[19.71,2e4],[19.73,1.5e4],[19.75,1.2e4],[19.77,1.6e4],
  [19.79,1e4],[19.81,1.3e4],[19.83,8.5e3],[19.85,1.1e4],[19.87,7e3],[19.89,9.5e3],[19.91,6e3],[19.93,8e3],[19.95,5e3],[19.97,7e3],
  [19.99,4.5e3],
  [20.01,6e3],[20.03,4.5e3],[20.05,3.5e3],[20.06,5e3],[20.08,2.8e3],[20.09,4e3],[20.11,2.4e3],[20.12,3.2e3],[20.14,5.5e3],[20.16,9e3],
  [20.18,1.4e4],[20.20,2e4],[20.22,2.8e4],[20.24,3.6e4],[20.26,2.6e4],[20.28,4.5e4],[20.30,3.2e4],[20.32,2.3e4],[20.34,3e4],[20.36,2.2e4],
  [20.38,1.7e4],[20.40,2.6e4],[20.42,2e4],[20.44,1.5e4],[20.46,2.3e4],[20.48,1.8e4],[20.50,1.3e4],[20.52,2e4],[20.54,1.5e4],[20.56,2.4e4],
  [20.58,1.8e4],[20.60,3e4],[20.62,4.8e4],[20.64,2.6e4],[20.66,2e4],[20.68,2.9e4],[20.70,2.2e4],[20.72,1.7e4],[20.74,2.5e4],[20.76,1.9e4],
  [20.78,1.4e4],[20.80,2.1e4],[20.82,1.6e4],[20.84,1.2e4],[20.86,1.8e4],[20.88,1.3e4],[20.90,1e4],[20.92,1.5e4],[20.94,1.1e4],[20.96,1.3e4],
  [20.98,9e3]
];

// 100 % wherever only the one-mode GF was found
const frac100 = gfBlue.map(p => [p[0], 100]);

const family = '"Liberation Sans", Arial, Helvetica, sans-serif';
const tickFont = { family: family, size: 17 };
const gridOpts = { color: '#333', lineWidth: 1, drawTicks: false };
const borderOpts = { display: false, dash: [1, 3] };

function drawRotated(ctx, parts, baseX, centerY) {
  ctx.save();
  ctx.translate(baseX, centerY);
  ctx.rotate(-Math.PI / 2);
  let total = 0;
  parts.forEach(p => {
    ctx.font = (p.size || 17) + 'px ' + family;
    p.w = ctx.measureText(p.text).width;
    total += p.w;
  });
  let cx = -total / 2;
  ctx.fillStyle = '#000';
  ctx.textAlign = 'left';
  ctx.textBaseline = 'alphabetic';
  parts.forEach(p => {
    ctx.font = (p.size || 17) + 'px ' + family;
    ctx.fillText(p.text, cx, p.shift || 0);
    cx += p.w;
  });
  ctx.restore();
}

// box and inward ticks under the marks, texts on top
function framePlugin(cfg) {
  return {
    id: 'frame',
    beforeDatasetsDraw(chart) {
      const { ctx, chartArea: a } = chart;
      const x = chart.scales.x, y = chart.scales.y;
      ctx.save();
      ctx.strokeStyle = '#000';
      ctx.lineWidth = 1;
      ctx.beginPath();
      x.ticks.forEach(t => {
        const px = Math.round(x.getPixelForValue(t.value)) + 0.5;
        ctx.moveTo(px, a.bottom); ctx.lineTo(px, a.bottom - 5);
        ctx.moveTo(px, a.top); ctx.lineTo(px, a.top + 5);
      });
      y.ticks.forEach(t => {
        const py = Math.round(y.getPixelForValue(t.value)) + 0.5;
        const len = cfg.log && !decadeLabels.includes(t.value) ? 3 : 5;
        ctx.moveTo(a.left, py); ctx.lineTo(a.left + len, py);
        ctx.moveTo(a.right, py); ctx.lineTo(a.right - len, py);
      });
      ctx.stroke();
      ctx.lineWidth = 2;
      ctx.strokeRect(a.left, a.top, a.right - a.left, a.bottom - a.top);
      ctx.restore();
    },
    afterDraw(chart) {
      const { ctx, chartArea: a } = chart;
      const y = chart.scales.y;
      ctx.save();
      ctx.fillStyle = '#000';
      if (cfg.log) {
        decadeLabels.forEach(v => {
          const py = y.getPixelForValue(v);
          ctx.font = '17px ' + family;
          ctx.textAlign = 'right';
          ctx.textBaseline = 'alphabetic';
          ctx.fillText('10', 60, py + 7);
          ctx.font = '11px ' + family;
          ctx.textAlign = 'left';
          ctx.fillText(String(Math.round(Math.log10(v))), 61, py - 3);
        });
      }
      drawRotated(ctx, cfg.title, cfg.titleX, cfg.titleY);
      if (cfg.xTitle) {
        ctx.font = '17px ' + family;
        ctx.textAlign = 'center';
        ctx.textBaseline = 'alphabetic';
        ctx.fillText(cfg.xTitle, (a.left + a.right) / 2, cfg.xTitleY);
      }
      ctx.restore();
    }
  };
}

function panel(id, cfg) {
  return new Chart(document.getElementById(id), {
    type: 'scatter',
    data: { datasets: cfg.datasets },
    options: {
      responsive: false,
      animation: false,
      events: [],
      layout: { padding: { top: cfg.top, right: 10, left: 0, bottom: 0 } },
      plugins: { legend: { display: false }, tooltip: { enabled: false } },
      scales: {
        x: {
          type: 'linear', min: 5, max: 21,
          afterBuildTicks: s => { s.ticks = dayTicks.map(v => ({ value: v })); },
          afterFit: s => { s.height = cfg.xh; },
          ticks: { callback: v => (v < 10 ? '0' : '') + v, font: tickFont, color: '#000', padding: 5, maxRotation: 0, autoSkip: false },
          grid: gridOpts, border: borderOpts
        },
        y: Object.assign({
          afterFit: s => { s.width = 70; },
          grid: gridOpts, border: borderOpts
        }, cfg.y)
      }
    },
    plugins: [framePlugin(cfg)]
  });
}

const blueDots = { pointRadius: 2.6, pointBackgroundColor: '#0000ff', pointBorderWidth: 0, clip: false, order: 1 };

panel('gf', {
  top: 19, xh: 22,
  title: [{ text: 'GF@RH 90%', size: 19 }], titleX: 39, titleY: 72,
  datasets: [
    { data: gfRed, pointStyle: 'cross', pointRadius: 3.6, pointBorderColor: '#ff0000', pointBorderWidth: 1.2, order: 0 },
    Object.assign({ data: gfBlue }, blueDots)
  ],
  y: {
    type: 'linear', min: 0.9, max: 1.4,
    afterBuildTicks: s => { s.ticks = gfTicks.map(v => ({ value: v })); },
    ticks: { font: tickFont, color: '#000', padding: 4, callback: v => (v === 1 ? '1' : v.toFixed(1)) }
  }
});

panel('frac', {
  top: 32, xh: 21,
  title: [{ text: 'Fraction of conc. (%)' }], titleX: 32.5, titleY: 86,
  datasets: [
    Object.assign({ data: fracPartial }, blueDots),
    Object.assign({ data: frac100 }, blueDots)
  ],
  y: {
    type: 'linear', min: 0, max: 100,
    afterBuildTicks: s => { s.ticks = fracTicks.map(v => ({ value: v })); },
    ticks: { font: tickFont, color: '#000', padding: 4 }
  }
});

panel('conc', {
  top: 17, xh: 41, log: true,
  title: [{ text: 'dN/dlogD' }, { text: 'p', size: 12, shift: 5 }, { text: ' (cm' }, { text: '\u22123', size: 12, shift: -10 }, { text: ')' }],
  titleX: 33, titleY: 78,
  xTitle: '10 nm, Helsinki June 1998', xTitleY: 175,
  datasets: [
    { data: conc, pointRadius: 1.8, pointBackgroundColor: '#000', pointBorderWidth: 0 }
  ],
  y: {
    type: 'logarithmic', min: 500, max: 200000,
    afterBuildTicks: s => { s.ticks = concTicks.map(v => ({ value: v })); },
    ticks: { display: false }
  }
});
</script>
</body>
</html>
